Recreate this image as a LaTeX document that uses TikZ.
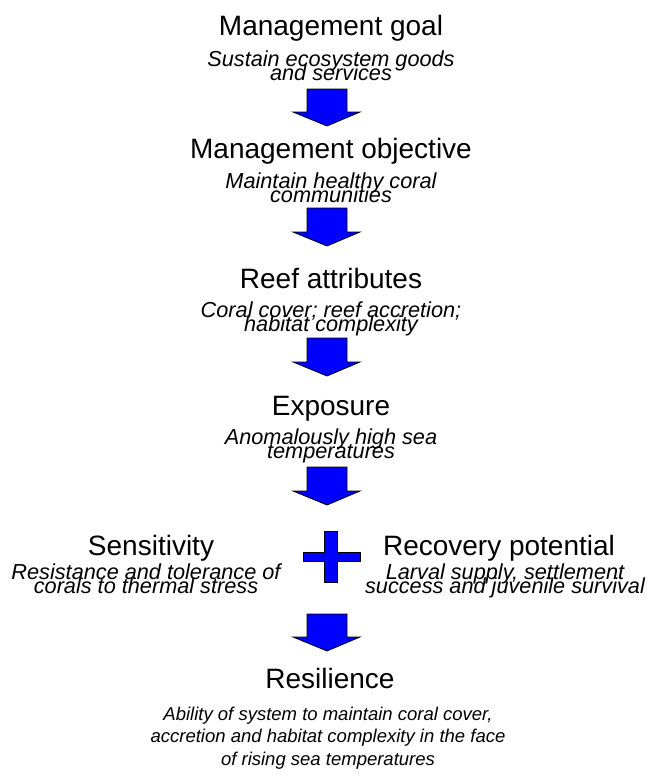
\documentclass[tikz,border=0pt]{standalone}
\usepackage{fontspec}
\setmainfont{Liberation Sans}

\begin{document}
\begin{tikzpicture}[x=1pt,y=-1pt,
        title/.style={font=\fontsize{28}{34}\selectfont, anchor=base, inner sep=0pt},
        sub/.style={font={\fontsize{21.7}{13.5}\selectfont\itshape\lineskiplimit-100pt}, align=center, anchor=base, inner sep=0pt},
        blockarrow/.style={fill=blue, draw=black, line width=0.8pt, line join=miter}]
            % page frame
            \useasboundingbox (0,0) rectangle (652,782);

            % main column (sub texts sit on their last line)
            \node[title] (goal) at (331,35) {Management goal};
            \node[sub] (goaltxt) at (331,80) {Sustain ecosystem goods\\and services};

            \node[title] (objective) at (331,158) {Management objective};
            \node[sub] (objectivetxt) at (331,202) {Maintain healthy coral\\communities};

            \node[title] (attributes) at (331,288) {Reef attributes};
            \node[sub] (attributestxt) at (331,331) {Coral cover; reef accretion;\\habitat complexity};

            \node[title] (exposure) at (331,415) {Exposure};
            \node[sub] (exposuretxt) at (331,458) {Anomalously high sea\\temperatures};

            % the two sides
            \node[title] (sensitivity) at (151,555) {Sensitivity};
            \node[sub] (sensitivitytxt) at (146,593) {Resistance and tolerance of\\corals to thermal stress};

            \node[title] (recovery) at (499,555) {Recovery potential};
            \node[sub] (recoverytxt) at (505,593) {Larval supply, settlement\\success and juvenile survival};

            % result
            \node[title] (resilience) at (330,688) {Resilience};
            \node[sub, font={\fontsize{18.5}{22.5}\selectfont\itshape}] (resiliencetxt) at (328,765)
                {Ability of system to maintain coral cover,\\accretion and habitat complexity in the face\\of rising sea temperatures};

            % block arrows
            \foreach \ya/\yb in {89/126, 208/246, 338/376, 467/505, 614/651} {
                \draw[blockarrow] (307,\ya) -- (347,\ya) -- (347,\yb-14) -- (360,\yb-14) -- (327,\yb)
                    -- (293,\yb-14) -- (307,\yb-14) -- cycle;
            }

            % plus sign
            \draw[blockarrow] (324,531) -- (337,531) -- (337,552) -- (360,552) -- (360,561) -- (337,561)
                -- (337,582) -- (324,582) -- (324,561) -- (303,561) -- (303,552) -- (324,552) -- cycle;

        \end{tikzpicture}
\end{document}
